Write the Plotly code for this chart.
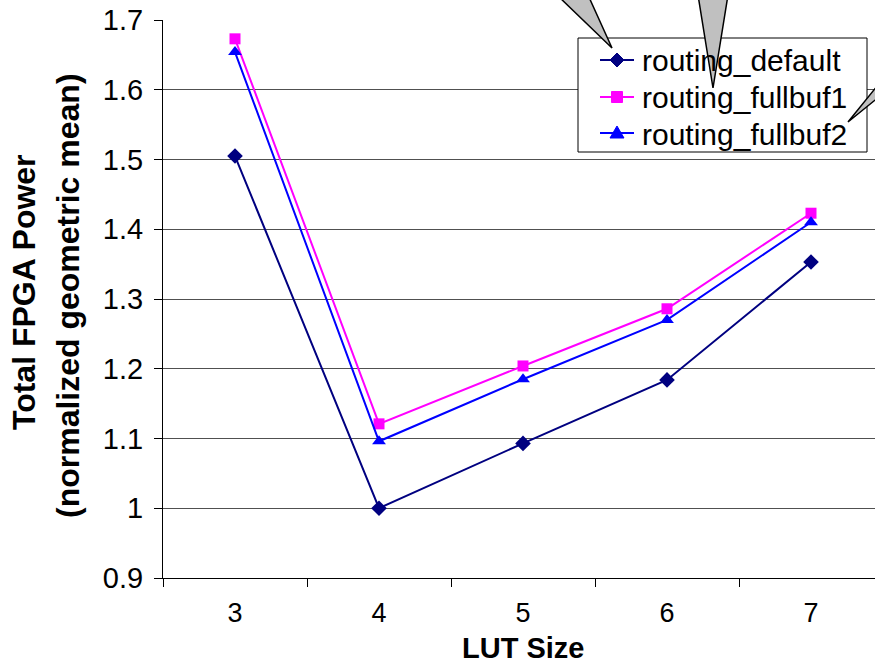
import plotly.graph_objects as go

lut_sizes = ["3", "4", "5", "6", "7"]
routing_default = [1.505, 1.000, 1.093, 1.184, 1.353]
routing_fullbuf1 = [1.673, 1.121, 1.204, 1.286, 1.423]
routing_fullbuf2 = [1.654, 1.096, 1.185, 1.270, 1.410]
y_ticks = [0.9, 1.0, 1.1, 1.2, 1.3, 1.4, 1.5, 1.6, 1.7]
y_tick_text = ["0.9", "1", "1.1", "1.2", "1.3", "1.4", "1.5", "1.6", "1.7"]
series_names = ["routing_default", "routing_fullbuf1", "routing_fullbuf2"]

W, H = 875, 667
L, R, T, B = 163, 0, 20, 89
PW, PH = W - L - R, H - T - B

def px(x):
    return (x - L) / PW

def py(y):
    return (H - B - y) / PH

def poly(pts):
    return "M " + " L ".join(f"{px(a):.5f},{py(b):.5f}" for a, b in pts) + " Z"

FONT = "Liberation Sans, Arial, sans-serif"

colors = ["#000080", "#FF00FF", "#0000FF"]
symbols = ["diamond", "square", "triangle-up"]
sizes = [12, 11, 12]
values = [routing_default, routing_fullbuf1, routing_fullbuf2]

fig = go.Figure()
for name, vals, col, sym, sz in zip(series_names, values, colors, symbols, sizes):
    fig.add_trace(go.Scatter(
        x=lut_sizes, y=vals, name=name, mode="lines+markers",
        line=dict(color=col, width=2),
        marker=dict(symbol=sym, size=sz, color=col),
        showlegend=False,
    ))

shapes = []
annotations = []

# legend box
shapes.append(dict(type="rect", xref="paper", yref="paper", layer="above",
                   x0=px(578), x1=px(867), y0=py(152), y1=py(38),
                   fillcolor="white", line=dict(color="black", width=1)))
row_y = [60, 97, 133]
for i, (name, col, sym) in enumerate(zip(series_names, colors, symbols)):
    cy = row_y[i]
    shapes.append(dict(type="line", xref="paper", yref="paper", layer="above",
                       x0=px(600), x1=px(634), y0=py(cy), y1=py(cy),
                       line=dict(color=col, width=2)))
    cx = 617
    if sym == "diamond":
        pts = [(cx, cy - 7), (cx + 7, cy), (cx, cy + 7), (cx - 7, cy)]
    elif sym == "square":
        pts = [(cx - 5.5, cy - 5.5), (cx + 5.5, cy - 5.5), (cx + 5.5, cy + 5.5), (cx - 5.5, cy + 5.5)]
    else:
        pts = [(cx, cy - 7), (cx + 7, cy + 5), (cx - 7, cy + 5)]
    shapes.append(dict(type="path", xref="paper", yref="paper", layer="above",
                       path=poly(pts), fillcolor=col, line=dict(color=col, width=1)))
    annotations.append(dict(text=name, xref="paper", yref="paper",
                            x=px(640), y=py(cy + 1), xanchor="left", yanchor="middle",
                            showarrow=False,
                            font=dict(family=FONT, size=30, color="black")))

# callout pointers
callouts = [
    [(557, -5), (588, -5), (612, 48)],
    [(698, -5), (728, -5), (713, 88)],
    [(890, 70), (890, 88), (848, 122)],
]
for pts in callouts:
    shapes.append(dict(type="path", xref="paper", yref="paper", layer="above",
                       path=poly(pts), fillcolor="#C0C0C0",
                       line=dict(color="black", width=1.5)))

annotations += [
    dict(text="<b>Total FPGA Power</b>",
         xref="paper", yref="paper", x=px(24), y=py(292), textangle=-90,
         xanchor="center", yanchor="middle", showarrow=False,
         font=dict(family=FONT, size=32, color="black")),
    dict(text="<b>(normalized geometric mean)</b>",
         xref="paper", yref="paper", x=px(68), y=py(296), textangle=-90,
         xanchor="center", yanchor="middle", showarrow=False,
         font=dict(family=FONT, size=32, color="black")),
    dict(text="<b>LUT Size</b>", xref="paper", yref="paper",
         x=px(523), y=py(648), xanchor="center", yanchor="middle",
         showarrow=False, font=dict(family=FONT, size=29, color="black")),
]

fig.update_layout(
    width=W, height=H,
    margin=dict(l=L, r=R, t=T, b=B, pad=0),
    paper_bgcolor="white", plot_bgcolor="white",
    font=dict(family=FONT, size=29, color="black"),
    showlegend=False,
    shapes=shapes,
    annotations=annotations,
)
fig.update_xaxes(
    type="category", categoryorder="array", categoryarray=lut_sizes,
    range=[-0.5, -0.5 + PW / 144.0],
    showgrid=False, showline=True, linecolor="black", linewidth=1,
    ticks="outside", tickson="boundaries", ticklen=8, tickcolor="black",
    tickfont=dict(family=FONT, size=27, color="black"),
    ticklabelstandoff=11,
    zeroline=False,
)
fig.update_yaxes(
    range=[0.9, 1.7], tickvals=y_ticks, ticktext=y_tick_text,
    showgrid=True, gridcolor="#505050", gridwidth=1,
    showline=True, linecolor="black", linewidth=1,
    ticks="outside", ticklen=8, tickcolor="black",
    tickfont=dict(family=FONT, size=29, color="black"),
    ticklabelstandoff=5,
    zeroline=False,
)

fig.write_html("out.html")
